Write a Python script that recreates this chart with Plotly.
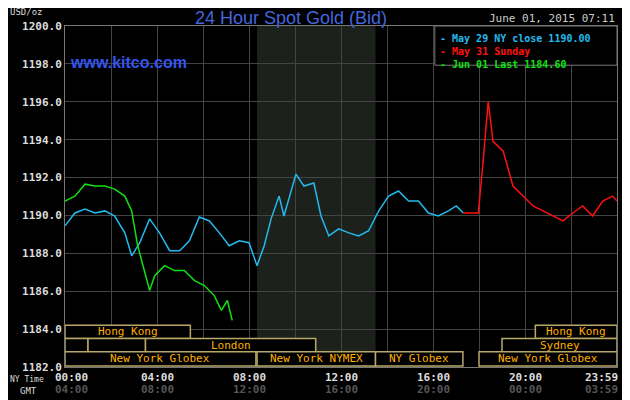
import plotly.graph_objects as go

blue_h = [0,0.43,0.87,1.3,1.73,2.16,2.6,2.9,3.25,3.68,4.11,4.55,4.98,5.41,5.84,6.28,6.71,7.14,7.58,8.0,8.35,8.66,8.96,9.31,9.52,9.83,10.04,10.39,10.82,11.13,11.47,11.9,12.34,12.77,13.2,13.64,14.07,14.5,14.94,15.37,15.8,16.23,16.67,17.01,17.32]
blue_p = [1189.45,1190.13,1190.34,1190.13,1190.24,1189.97,1189.08,1187.87,1188.56,1189.82,1189.08,1188.14,1188.14,1188.66,1189.92,1189.71,1189.08,1188.40,1188.66,1188.56,1187.35,1188.40,1189.82,1191.02,1189.97,1191.29,1192.18,1191.55,1191.71,1189.97,1188.92,1189.29,1189.08,1188.92,1189.19,1190.24,1191.02,1191.29,1190.76,1190.76,1190.13,1189.97,1190.24,1190.50,1190.13]
red_h = [17.32,17.97,18.18,18.4,18.61,19.05,19.48,19.91,20.35,20.78,21.21,21.65,22.08,22.51,22.94,23.38,23.81,24.0]
red_p = [1190.13,1190.13,1192.86,1196.01,1193.91,1193.39,1191.55,1191.02,1190.50,1190.24,1189.97,1189.71,1190.13,1190.50,1189.97,1190.76,1191.02,1190.76]
green_h = [0,0.43,0.87,1.3,1.73,2.16,2.6,2.9,3.16,3.46,3.68,3.9,4.33,4.76,5.19,5.63,6.06,6.49,6.8,7.06,7.27]
green_p = [1190.76,1191.02,1191.65,1191.55,1191.55,1191.39,1191.02,1190.24,1188.40,1187.09,1186.04,1186.82,1187.35,1187.09,1187.09,1186.56,1186.30,1185.77,1184.99,1185.51,1184.46]

tick_hours = [0,4,8,12,16,20,24]
ny_labels = ["00:00","04:00","08:00","12:00","16:00","20:00","23:59"]
gmt_labels = ["04:00","08:00","12:00","16:00","20:00","00:00","03:59"]
y_ticks = [1182,1184,1186,1188,1190,1192,1194,1196,1198,1200]

# sessions: (row, start, end, label)
sessions = [
    (0, 0, 5.45, "Hong Kong"), (0, 20.45, 24, "Hong Kong"),
    (1, 0, 1.0, ""), (1, 1.0, 3.5, ""), (1, 3.5, 10.9, "London"), (1, 19.0, 24, "Sydney"),
    (2, 0, 8.3, "New York Globex"), (2, 8.35, 13.5, "New York NYMEX"),
    (2, 13.5, 17.3, "NY Globex"), (2, 18.0, 24, "New York Globex"),
]
row_y = [(1183.5, 1184.2), (1182.8, 1183.5), (1182.05, 1182.8)]

mono = "DejaVu Sans Mono"
fig = go.Figure()
fig.add_trace(go.Scatter(x=blue_h, y=blue_p, mode="lines", line=dict(color="#22bbee", width=1.5)))
fig.add_trace(go.Scatter(x=red_h, y=red_p, mode="lines", line=dict(color="#ff1010", width=1.5)))
fig.add_trace(go.Scatter(x=green_h, y=green_p, mode="lines", line=dict(color="#10e010", width=1.5)))

shapes = [dict(type="rect", xref="x", yref="y", x0=8.35, x1=13.5, y0=1182, y1=1200,
               fillcolor="#1c211c", line=dict(width=0), layer="below")]
ann = []
for r, s, e, lab in sessions:
    y0, y1 = row_y[r]
    shapes.append(dict(type="rect", xref="x", yref="y", x0=s, x1=e, y0=y0, y1=y1,
                       fillcolor="black", line=dict(color="#b8a868", width=1.5)))
    if lab:
        ann.append(dict(x=(s + e) / 2, y=(y0 + y1) / 2, xref="x", yref="y", text=lab, showarrow=False,
                        font=dict(family=mono, size=11, color="#ffb000")))
for i, (h, a, b) in enumerate(zip(tick_hours, ny_labels, gmt_labels)):
    last = i == len(tick_hours) - 1
    xpos = 1.005 if last else (0.012 if i == 0 else h / 24)
    common = dict(x=xpos, xref="paper", yref="paper", showarrow=False,
                  xanchor="right" if last else "center")
    ann.append(dict(y=-0.056, text="<b>%s</b>" % a, font=dict(family=mono, size=11, color="#dddddd"), **common))
    ann.append(dict(y=-0.092, text="<b>%s</b>" % b, font=dict(family=mono, size=11, color="#555555"), **common))
ann += [
    dict(x=-0.103, y=-0.056, xref="paper", yref="paper", text="NY Time", showarrow=False, xanchor="left",
         font=dict(family=mono, size=8, color="#dddddd")),
    dict(x=-0.085, y=-0.092, xref="paper", yref="paper", text="GMT", showarrow=False, xanchor="left",
         font=dict(family=mono, size=9, color="#dddddd")),
    dict(x=-0.103, y=1.062, xref="paper", yref="paper", text="USD/oz", showarrow=False, xanchor="left",
         font=dict(family=mono, size=9, color="#dddddd")),
    dict(x=0.41, y=1.06, xref="paper", yref="paper", text="24 Hour Spot Gold (Bid)", showarrow=False,
         font=dict(family="Liberation Sans", size=18, color="#4466dd")),
    dict(x=0.005, y=0.925, xref="paper", yref="paper", text="<b>www.kitco.com</b>", showarrow=False, xanchor="left",
         font=dict(family="Liberation Sans", size=16, color="#3355ee")),
    dict(x=1.0, y=1.048, xref="paper", yref="paper", text="June 01, 2015 07:11", showarrow=False, xanchor="right",
         font=dict(family=mono, size=11, color="#cccccc")),
]
shapes.append(dict(type="rect", xref="paper", yref="paper", x0=0.67, x1=1.0, y0=0.885, y1=1.0,
                   fillcolor="black", line=dict(color="#777777", width=1)))
for i, (txt, col) in enumerate([("May 29 NY close 1190.00", "#22bbee"), ("May 31 Sunday", "#ff1010"),
                                 ("Jun 01 Last 1184.60", "#10e010")]):
    ann.append(dict(x=0.675, y=0.985 - i * 0.038, xref="paper", yref="paper", text="<b>- " + txt + "</b>",
                    showarrow=False, xanchor="left", font=dict(family=mono, size=10, color=col)))

fig.update_layout(
    width=622, height=392, margin=dict(l=57, r=12, t=16, b=33),
    paper_bgcolor="black", plot_bgcolor="black", showlegend=False,
    shapes=shapes, annotations=ann,
    xaxis=dict(range=[0, 24], dtick=2, tick0=0, showgrid=True, gridcolor="#444444", showticklabels=False,
               zeroline=False, showline=True, linecolor="#777777", mirror=True, fixedrange=True),
    yaxis=dict(range=[1182, 1200], tickvals=y_ticks, ticktext=["<b>%.1f</b>" % v for v in y_ticks],
               showgrid=True, gridcolor="#444444", zeroline=False, showline=True, linecolor="#777777",
               mirror=True, tickfont=dict(family=mono, size=11, color="#dddddd"), ticks="", fixedrange=True),
)
fig.write_html("out.html", config={"displayModeBar": False})
